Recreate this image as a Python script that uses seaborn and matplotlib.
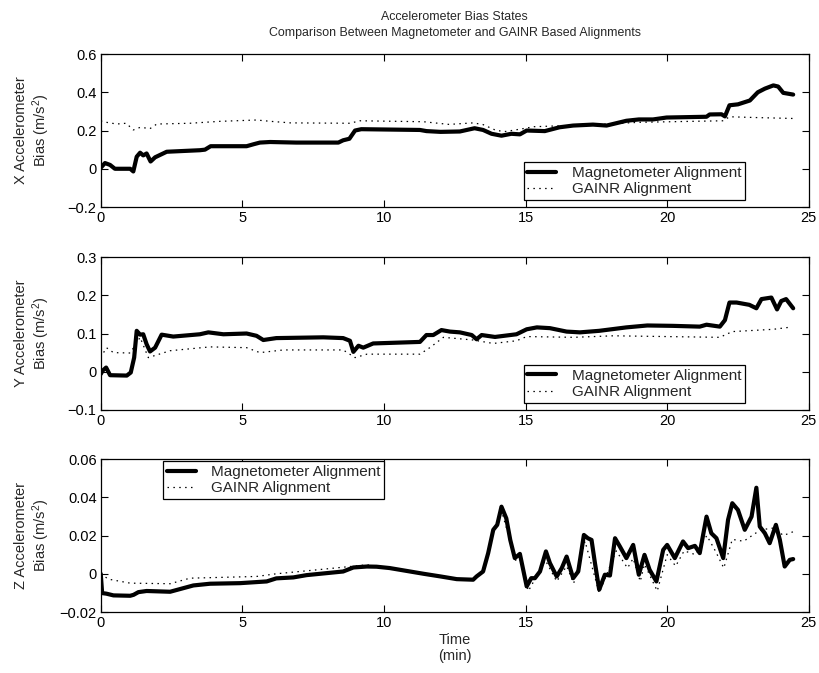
import numpy as np
import pandas as pd
import matplotlib
matplotlib.use("Agg")
import matplotlib.pyplot as plt
import seaborn as sns

# ---- data (time in minutes, bias in m/s^2) ----
x_mag_t = [0, 0.15, 0.33, 0.5, 1.04, 1.15, 1.27, 1.39, 1.5, 1.62, 1.76, 1.92, 2.33, 3.5, 3.68,
           3.88, 5.15, 5.39, 5.62, 5.98, 6.9, 8.39, 8.56, 8.78, 8.98, 9.2, 11.27, 11.5, 12.0,
           12.68, 13.2, 13.5, 13.8, 14.15, 14.5, 14.8, 15.04, 15.68, 16.2, 16.68, 17.38, 17.86,
           18.56, 19.0, 19.5, 19.98, 21.39, 21.5, 21.92, 22.04, 22.2, 22.5, 22.92, 23.2, 23.45,
           23.75, 23.92, 24.1, 24.45]
x_mag_v = [0.005, 0.03, 0.02, 0.0, 0.0, -0.014, 0.063, 0.084, 0.07, 0.08, 0.038, 0.06, 0.089,
           0.097, 0.10, 0.118, 0.118, 0.128, 0.137, 0.14, 0.137, 0.137, 0.149, 0.157, 0.2,
           0.207, 0.203, 0.197, 0.193, 0.195, 0.212, 0.203, 0.183, 0.173, 0.183, 0.18, 0.2,
           0.197, 0.217, 0.226, 0.231, 0.226, 0.251, 0.258, 0.258, 0.268, 0.272, 0.284, 0.285,
           0.274, 0.332, 0.337, 0.357, 0.40, 0.419, 0.436, 0.43, 0.397, 0.388]
x_gai_t = [0, 0.2, 0.56, 0.9, 1.15, 1.4, 1.74, 1.98, 3.15, 4.2, 5.5, 6.0, 6.7, 8.8, 9.15, 11.4,
           12.3, 13.15, 13.5, 13.97, 14.3, 14.8, 15.3, 16.1, 17.9, 19.0, 21.98, 22.2, 23.1, 24.45]
x_gai_v = [0.25, 0.243, 0.234, 0.238, 0.203, 0.217, 0.21, 0.234, 0.238, 0.248, 0.255, 0.248,
           0.24, 0.238, 0.251, 0.246, 0.232, 0.24, 0.231, 0.2, 0.195, 0.207, 0.22, 0.224, 0.234,
           0.243, 0.251, 0.272, 0.268, 0.263]

y_mag_t = [0, 0.07, 0.19, 0.33, 0.92, 1.06, 1.18, 1.27, 1.39, 1.5, 1.62, 1.74, 1.92, 2.15, 2.56,
           3.5, 3.8, 4.33, 5.15, 5.5, 5.74, 6.2, 7.86, 8.56, 8.8, 8.92, 9.1, 9.27, 9.62, 11.27,
           11.5, 11.74, 12.03, 12.33, 12.68, 13.1, 13.27, 13.45, 13.92, 14.68, 15.04, 15.4, 15.86,
           16.45, 16.92, 17.6, 18.56, 19.3, 20.2, 21.15, 21.39, 21.86, 22.04, 22.2, 22.45, 22.9,
           23.15, 23.33, 23.68, 23.88, 24.03, 24.2, 24.45]
y_mag_v = [-0.006, 0.003, 0.011, -0.009, -0.01, -0.002, 0.037, 0.107, 0.097, 0.098, 0.072,
           0.053, 0.063, 0.097, 0.092, 0.098, 0.103, 0.098, 0.1, 0.094, 0.083, 0.088, 0.09,
           0.088, 0.081, 0.052, 0.068, 0.063, 0.074, 0.078, 0.096, 0.096, 0.109, 0.105, 0.103,
           0.096, 0.085, 0.096, 0.091, 0.098, 0.111, 0.116, 0.114, 0.105, 0.103, 0.107, 0.116,
           0.121, 0.12, 0.118, 0.123, 0.118, 0.135, 0.181, 0.181, 0.175, 0.166, 0.19, 0.194,
           0.163, 0.185, 0.19, 0.166]
y_gai_t = [0, 0.2, 0.45, 1.04, 1.39, 1.68, 1.98, 2.45, 3.86, 5.15, 5.62, 6.45, 8.56, 8.98, 9.4,
           11.27, 11.62, 12.1, 13.15, 13.86, 14.68, 15.04, 16.7, 18.1, 21.86, 22.3, 23.75, 24.4]
y_gai_v = [0.037, 0.063, 0.05, 0.049, 0.09, 0.037, 0.044, 0.055, 0.065, 0.063, 0.05, 0.057,
           0.057, 0.037, 0.046, 0.046, 0.063, 0.09, 0.083, 0.074, 0.081, 0.092, 0.09, 0.094,
           0.09, 0.105, 0.111, 0.117]

z_mag_t = [0, 0.05, 0.2, 0.45, 1.04, 1.16, 1.33, 1.62, 2.45, 3.27, 3.86, 4.92, 5.86, 6.2, 6.8,
           7.27, 8.56, 8.92, 9.4, 9.74, 10.2, 11.4, 12.0, 12.57, 13.15, 13.27, 13.5, 13.68,
           13.86, 14.0, 14.15, 14.32, 14.46, 14.62, 14.8, 15.04, 15.2, 15.33, 15.51, 15.72,
           15.86, 16.1, 16.28, 16.45, 16.68, 16.86, 17.06, 17.2, 17.33, 17.45, 17.6, 17.8,
           17.98, 18.16, 18.33, 18.56, 18.8, 19.0, 19.2, 19.38, 19.62, 19.86, 20.0, 20.27,
           20.56, 20.74, 20.98, 21.15, 21.39, 21.56, 21.74, 21.98, 22.15, 22.3, 22.5, 22.74,
           22.98, 23.15, 23.27, 23.45, 23.62, 23.84, 23.98, 24.15, 24.33, 24.45]
z_mag_v = [0, -0.0101, -0.0104, -0.0113, -0.0115, -0.011, -0.0096, -0.009, -0.0094, -0.0061,
           -0.0052, -0.0049, -0.004, -0.0024, -0.0019, -0.0007, 0.0012, 0.0033, 0.0038, 0.0037,
           0.003, 0.0, -0.0014, -0.0028, -0.0031, -0.0014, 0.0012, 0.0108, 0.023, 0.0256,
           0.0351, 0.029, 0.0177, 0.0082, 0.0104, -0.0066, -0.0023, -0.0023, 0.0012, 0.0117,
           0.0056, -0.0014, 0.003, 0.009, -0.0023, 0.0012, 0.0203, 0.0186, 0.0177, 0.0056,
           -0.0083, -0.0005, -0.0009, 0.0186, 0.0143, 0.0082, 0.0151, -0.0005, 0.0099, 0.0021,
           -0.004, 0.0125, 0.0151, 0.0082, 0.0169, 0.0134, 0.0146, 0.0108, 0.0299, 0.0212,
           0.0186, 0.0082, 0.0282, 0.0369, 0.0334, 0.023, 0.0299, 0.045, 0.0247, 0.0212, 0.016,
           0.0256, 0.0177, 0.0038, 0.0073, 0.0077]
z_gai_t = [0, 0.27, 1.04, 2.45, 3.15, 5.5, 6.2, 7.86, 8.8, 9.4, 11.4, 12.3, 13.15, 13.5, 13.68,
           13.86, 14.15, 14.46, 14.62, 14.8, 15.1, 15.7, 16.1, 16.45, 16.7, 17.1, 17.6, 18.2,
           18.6, 18.8, 19.05, 19.2, 19.65, 20.0, 20.3, 20.6, 21.0, 21.4, 21.7, 22.0, 22.3, 22.7,
           23.0, 23.3, 23.8, 24.1, 24.45]
z_gai_v = [0, -0.0028, -0.0049, -0.0052, -0.0023, -0.0014, 0.0, 0.0024, 0.0038, 0.0047, 0.0003,
           -0.0023, -0.0031, 0.0012, 0.0105, 0.022, 0.033, 0.017, 0.007, 0.008, -0.009, 0.007,
           -0.004, 0.004, -0.005, 0.017, -0.01, 0.012, 0.003, 0.008, -0.004, 0.005, -0.009,
           0.01, 0.004, 0.012, 0.01, 0.02, 0.012, 0.003, 0.018, 0.017, 0.02, 0.023, 0.024, 0.02,
           0.022]

series_names = ["Magnetometer Alignment", "GAINR Alignment"]
axis_names = ["X", "Y", "Z"]
y_limits = [(-0.2, 0.6), (-0.1, 0.3), (-0.02, 0.06)]
y_ticks = [[-0.2, 0, 0.2, 0.4, 0.6], [-0.1, 0, 0.1, 0.2, 0.3], [-0.02, 0, 0.02, 0.04, 0.06]]
y_ticklabels = [["\u22120.2", "0", "0.2", "0.4", "0.6"],
                ["\u22120.1", "0", "0.1", "0.2", "0.3"],
                ["\u22120.02", "0", "0.02", "0.04", "0.06"]]
x_ticks = [0, 5, 10, 15, 20, 25]
title_lines = ["Accelerometer Bias States",
               "Comparison Between Magnetometer and GAINR Based Alignments"]

panels = [
    (x_mag_t, x_mag_v, x_gai_t, x_gai_v),
    (y_mag_t, y_mag_v, y_gai_t, y_gai_v),
    (z_mag_t, z_mag_v, z_gai_t, z_gai_v),
]

# ---- style ----
sns.set_theme(style="ticks")
plt.rcParams["font.family"] = ["Liberation Sans", "DejaVu Sans"]
plt.rcParams.update({
    "axes.linewidth": 0.9, "axes.edgecolor": "black",
    "xtick.color": "black", "ytick.color": "black",
    "xtick.labelsize": 10.5, "ytick.labelsize": 10.5,
    "mathtext.fontset": "custom", "mathtext.rm": "Liberation Sans",
    "mathtext.it": "Liberation Sans", "mathtext.default": "regular",
})

fig = plt.figure(figsize=(8.19, 6.73), dpi=100)
left, width, height = 0.1230, 0.8645, 0.2273
bottoms = [0.6924, 0.3908, 0.0906]

legend_places = [
    dict(loc="lower right", bbox_to_anchor=(0.91, 0.046)),
    dict(loc="lower right", bbox_to_anchor=(0.91, 0.046)),
    dict(loc="upper left", bbox_to_anchor=(0.088, 0.985)),
]

for i, (mt, mv, gt, gv) in enumerate(panels):
    ax = fig.add_axes([left, bottoms[i], width, height])
    mag = pd.DataFrame({"t": mt, "v": mv})
    gai = pd.DataFrame({"t": gt, "v": gv})
    sns.lineplot(data=mag, x="t", y="v", ax=ax, color="black", lw=3.0,
                 label=series_names[0], estimator=None, sort=False)
    sns.lineplot(data=gai, x="t", y="v", ax=ax, color="black", lw=0.9,
                 linestyle=(0, (1.2, 3.5)), label=series_names[1],
                 estimator=None, sort=False)
    ax.set_xlim(0, 25)
    ax.set_ylim(*y_limits[i])
    ax.set_xticks(x_ticks)
    ax.set_xticklabels([str(v) for v in x_ticks])
    ax.set_yticks(y_ticks[i])
    ax.set_yticklabels(y_ticklabels[i])
    ax.tick_params(axis="both", which="major", direction="in", top=True, right=True,
                   length=5, width=0.8, pad=3, color="black")
    ax.set_xlabel("")
    ax.set_ylabel(f"{axis_names[i]} Accelerometer\nBias (m/s$^2$)", fontsize=10.5,
                  linespacing=1.15)
    ax.yaxis.set_label_coords(-0.069, 0.5)
    for s in ax.spines.values():
        s.set_visible(True)
    leg = ax.legend(**legend_places[i], frameon=True, fancybox=False, fontsize=11,
                    edgecolor="black", framealpha=1, borderpad=0.25,
                    handlelength=1.9, handletextpad=1.0, labelspacing=0.15,
                    borderaxespad=0)
    leg.get_frame().set_linewidth(0.9)
    if i == 0:
        ax.text(0.5, 1.10, "\n".join(title_lines), transform=ax.transAxes,
                ha="center", va="bottom", fontsize=8.9, linespacing=1.45)
    if i == 2:
        ax.set_xlabel("Time\n(min)", fontsize=10.5, linespacing=1.15, labelpad=2)

fig.savefig("out.png", dpi=100)
